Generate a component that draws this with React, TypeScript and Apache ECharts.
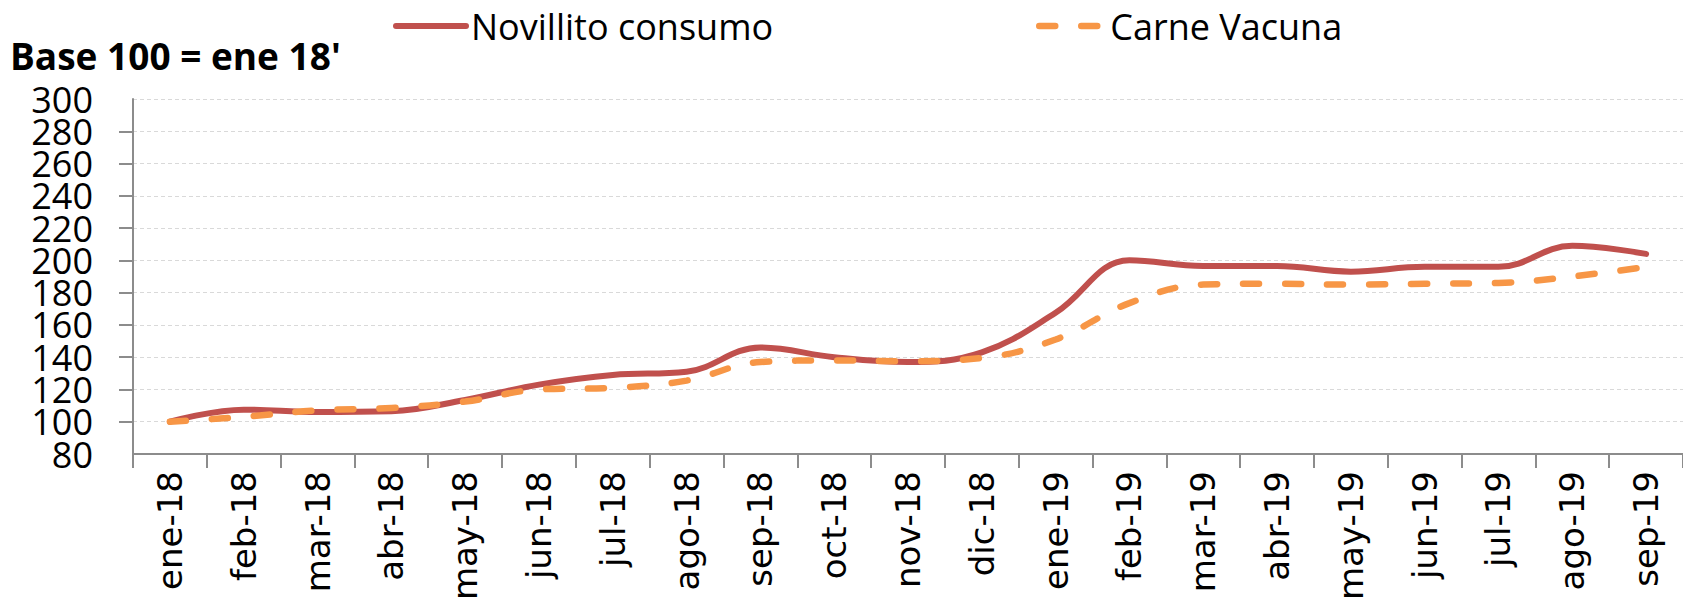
import React, { useEffect, useRef } from "react";
import * as echarts from "echarts";

const categories = [
  "ene-18", "feb-18", "mar-18", "abr-18", "may-18", "jun-18", "jul-18",
  "ago-18", "sep-18", "oct-18", "nov-18", "dic-18", "ene-19", "feb-19",
  "mar-19", "abr-19", "may-19", "jun-19", "jul-19", "ago-19", "sep-19",
];

const novillitoConsumo = [
  100, 107.5, 106, 106.5, 113.5, 123, 129, 131, 146, 140, 137, 143, 167.5,
  200, 196.5, 196.5, 193, 196, 196, 209, 204,
];

const carneVacuna = [
  100, 103, 107, 108.5, 112.5, 120, 121, 125.5, 137, 138, 137.5, 139.5, 151,
  173.5, 185, 185.5, 185, 185.5, 186, 190, 196,
];

const yMin = 80;
const yMax = 300;
const yInterval = 20;

const titleText = "Base 100 = ene 18'";

export default function App() {
  const ref = useRef<HTMLDivElement>(null);

  useEffect(() => {
    if (!ref.current) return;
    const chart = echarts.init(ref.current, null, { renderer: "svg" });
    const axisColor = "#8c8c8c";
    const legendText = {
      fontFamily: "'Open Sans', sans-serif",
      fontSize: 36,
      color: "#000",
    };
    const yLabelBase = {
      margin: 40,
      hideOverlap: false,
      fontFamily: "'Open Sans', sans-serif",
      fontSize: 36,
      color: "#000",
    };
    chart.setOption({
      animation: false,
      backgroundColor: "#fff",
      graphic: [
        {
          type: "text",
          x: 10,
          y: 55,
          style: {
            text: titleText,
            fontFamily: "'Open Sans', sans-serif",
            fontWeight: "bold",
            fontSize: 37,
            fill: "#000",
            align: "left",
            verticalAlign: "middle",
          },
        },
      ],
      legend: [
        {
          data: ["Novillito consumo"],
          left: 393,
          top: 8,
          padding: 0,
          itemWidth: 70,
          itemHeight: 36,
          itemStyle: { opacity: 0 },
          lineStyle: { color: "#C0504D", width: 6, cap: "round", type: "solid", opacity: 1 },
          textStyle: legendText,
        },
        {
          data: ["Carne Vacuna"],
          left: 1036,
          top: 8,
          padding: 0,
          itemWidth: 66,
          itemHeight: 36,
          itemStyle: { opacity: 0 },
          lineStyle: { color: "#F79646", width: 6.5, cap: "round", type: [16, 26], opacity: 1 },
          textStyle: legendText,
        },
      ],
      grid: { left: 133, right: 0, top: 99, bottom: 155, containLabel: false },
      xAxis: {
        type: "category",
        data: categories,
        boundaryGap: true,
        axisLine: { lineStyle: { color: axisColor, width: 2 } },
        axisTick: { show: true, length: 14, interval: 0, lineStyle: { color: axisColor, width: 2 } },
        axisLabel: {
          interval: 0,
          rotate: 90,
          margin: 17,
          fontFamily: "'DejaVu Sans', sans-serif",
          fontSize: 34,
          color: "#000",
        },
        splitLine: { show: false },
      },
      yAxis: [
        {
          type: "value",
          position: "left",
          min: yMin,
          max: yMax,
          interval: yInterval,
          axisLine: { show: true, lineStyle: { color: axisColor, width: 2 } },
          axisTick: { show: true, length: 14, lineStyle: { color: axisColor, width: 2 } },
          axisLabel: { ...yLabelBase, showMinLabel: false, showMaxLabel: false },
          splitLine: { show: true, lineStyle: { color: "#d9d9d9", width: 1, type: [4, 3] } },
        },
        {
          type: "value",
          position: "left",
          offset: 0,
          min: yMin,
          max: yMax,
          interval: yInterval,
          axisLine: { show: false },
          axisTick: { show: false },
          splitLine: { show: false },
          axisLabel: {
            ...yLabelBase,
            showMinLabel: true,
            showMaxLabel: true,
            formatter: (v: number) => (v === yMin || v === yMax ? String(v) : ""),
          },
        },
      ],
      series: [
        {
          name: "Novillito consumo",
          type: "line",
          yAxisIndex: 0,
          data: novillitoConsumo,
          smooth: 0.4,
          symbol: "none",
          lineStyle: { color: "#C0504D", width: 6, cap: "round" },
          itemStyle: { color: "#C0504D" },
          z: 2,
        },
        {
          name: "Carne Vacuna",
          type: "line",
          yAxisIndex: 0,
          data: carneVacuna,
          smooth: 0.4,
          symbol: "none",
          lineStyle: { color: "#F79646", width: 6.5, type: [16, 26], cap: "round" },
          itemStyle: { color: "#F79646" },
          z: 3,
        },
      ],
    });
    return () => chart.dispose();
  }, []);

  return <div ref={ref} style={{ width: 1683, height: 609, position: "absolute", left: 0, top: 0 }} />;
}
